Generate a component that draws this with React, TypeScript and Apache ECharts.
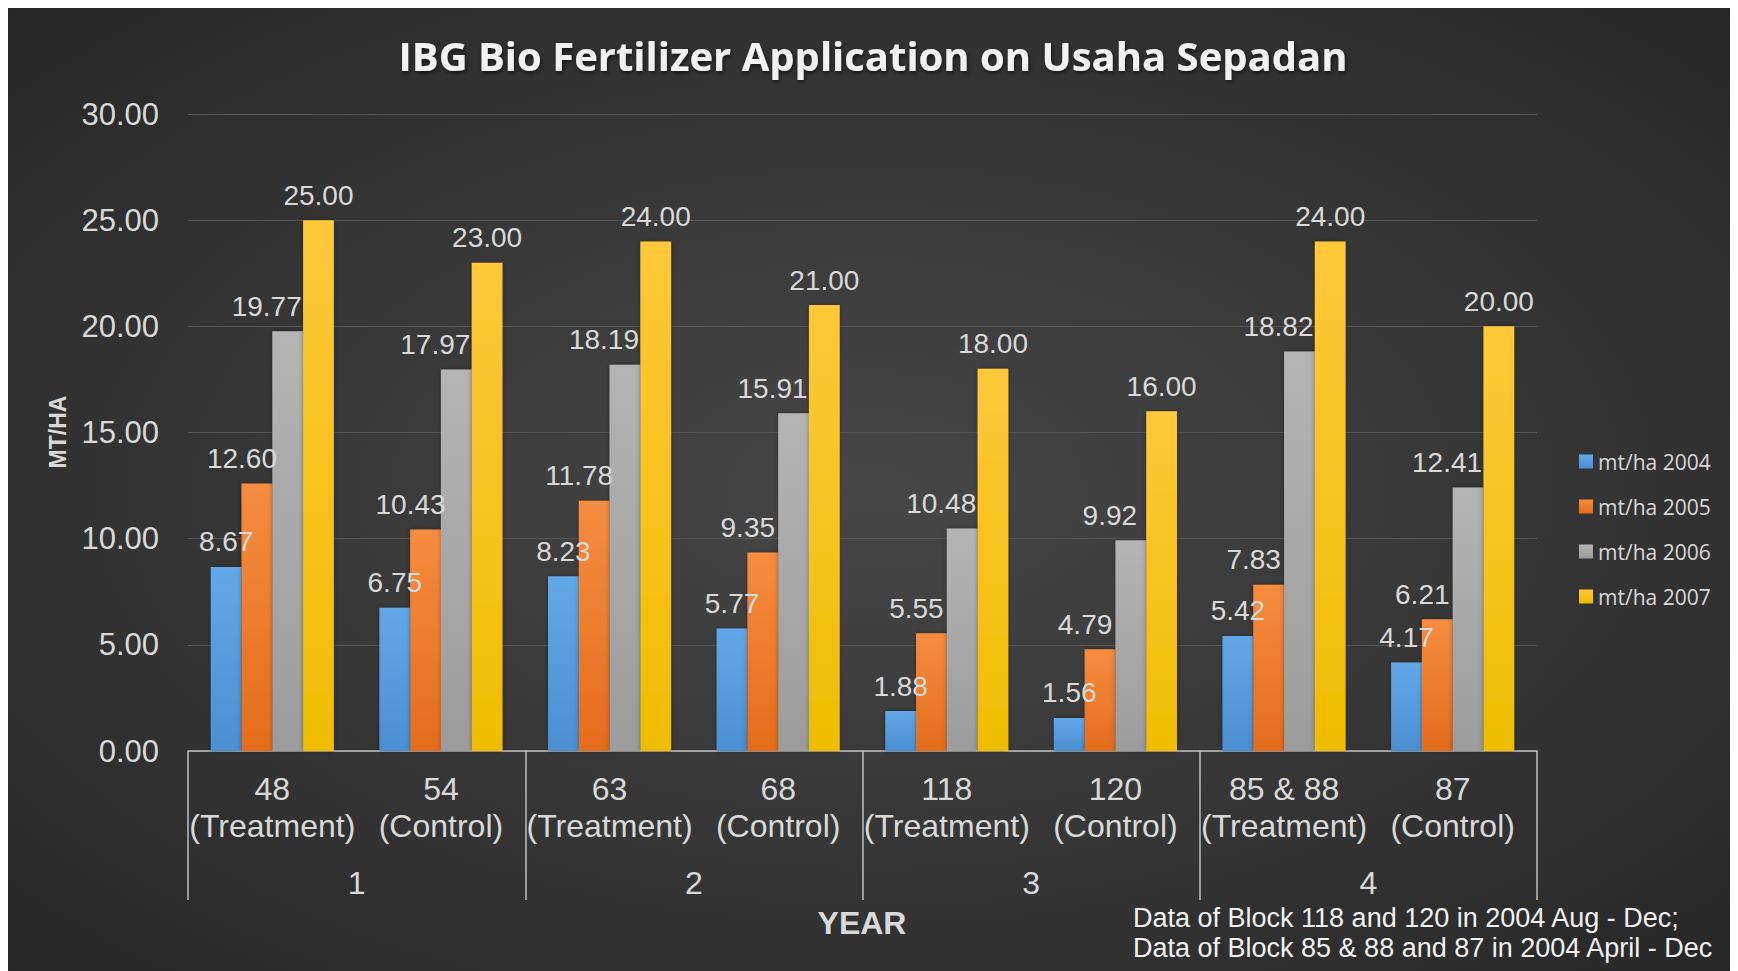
import React, { useEffect, useRef } from "react";
import * as echarts from "echarts";

const categories = [
  "48\n(Treatment)",
  "54\n(Control)",
  "63\n(Treatment)",
  "68\n(Control)",
  "118\n(Treatment)",
  "120\n(Control)",
  "85 & 88\n(Treatment)",
  "87\n(Control)",
];
const groups = ["1", "2", "3", "4"];
const seriesNames = ["mt/ha 2004", "mt/ha 2005", "mt/ha 2006", "mt/ha 2007"];
const v2004 = [8.67, 6.75, 8.23, 5.77, 1.88, 1.56, 5.42, 4.17];
const v2005 = [12.6, 10.43, 11.78, 9.35, 5.55, 4.79, 7.83, 6.21];
const v2006 = [19.77, 17.97, 18.19, 15.91, 10.48, 9.92, 18.82, 12.41];
const v2007 = [25.0, 23.0, 24.0, 21.0, 18.0, 16.0, 24.0, 20.0];
const yTicks = { min: 0, max: 30, interval: 5 };
const titleText = "IBG Bio Fertilizer Application on Usaha Sepadan";
const yName = "MT/HA";
const xName = "YEAR";
const noteLines = [
  "Data of Block 118 and 120 in 2004 Aug - Dec;",
  "Data of Block 85 & 88 and 87 in 2004 April - Dec",
];

const FONT = "'Liberation Sans', Arial, sans-serif";
const TXT = "#d9d9d9";

function grad(top: string, bottom: string) {
  return new echarts.graphic.LinearGradient(0, 0, 0, 1, [
    { offset: 0, color: top },
    { offset: 1, color: bottom },
  ]);
}

export default function App() {
  const ref = useRef<HTMLDivElement>(null);
  useEffect(() => {
    document.documentElement.style.overflow = "hidden";
    document.body.style.overflow = "hidden";
    const chart = echarts.init(ref.current!, null, { renderer: "svg" });
    const values = [v2004, v2005, v2006, v2007];
    const colors = [
      ["#62a8e8", "#4a8fd2"],
      ["#f68c40", "#e46c1c"],
      ["#b4b4b4", "#9c9c9c"],
      ["#ffc83a", "#f0bd00"],
    ];
    const legendColors = ["#5b9bd5", "#ed7d31", "#a5a5a5", "#ffc000"];
    const labelShift = [0, -15, -21, 0];
    chart.setOption({
      animation: false,
      backgroundColor: {
        type: "radial",
        x: 0.5,
        y: 0.5,
        r: 0.75,
        colorStops: [
          { offset: 0, color: "#474747" },
          { offset: 1, color: "#252525" },
        ],
      },
      color: legendColors,
      grid: { left: 180, right: 201, top: 106, bottom: 220, containLabel: false },
      legend: {
        orient: "vertical",
        left: 1566,
        top: 438,
        itemWidth: 14,
        itemHeight: 14,
        itemGap: 24,
        icon: "rect",
        textStyle: { color: TXT, fontSize: 21, fontFamily: "'Open Sans', sans-serif" },
        data: seriesNames,
      },
      xAxis: [
        {
          type: "category",
          data: categories,
          position: "bottom",
          axisLine: { show: true, lineStyle: { color: "#bfbfbf", width: 1.5 } },
          axisTick: { show: false },
          axisLabel: {
            interval: 0,
            color: TXT,
            fontSize: 32,
            fontFamily: FONT,
            lineHeight: 37,
            margin: 19,
          },
        },
        {
          type: "category",
          data: groups,
          position: "bottom",
          axisLine: { show: false },
          axisTick: { show: true, length: 149, lineStyle: { color: "#bfbfbf", width: 1.5 } },
          axisLabel: {
            interval: 0,
            color: TXT,
            fontSize: 32,
            fontFamily: FONT,
            margin: 116,
          },
          splitLine: { show: false },
        },
      ],
      yAxis: {
        type: "value",
        min: yTicks.min,
        max: yTicks.max,
        interval: yTicks.interval,
        axisLine: { show: false },
        axisTick: { show: false },
        splitLine: { lineStyle: { color: "#555555", width: 1 } },
        axisLabel: {
          color: TXT,
          fontSize: 31,
          fontFamily: FONT,
          margin: 29,
          formatter: (v: number) => v.toFixed(2),
        },
      },
      series: values.map((vals, i) => ({
        type: "bar",
        name: seriesNames[i],
        data: vals,
        xAxisIndex: 0,
        barGap: "0%",
        barCategoryGap: "27%",
        itemStyle: {
          color: grad(colors[i][0], colors[i][1]),
          shadowColor: "rgba(0,0,0,0.35)",
          shadowBlur: 4,
        },
        label: {
          show: true,
          position: "top",
          distance: 11,
          offset: [labelShift[i], 0],
          color: TXT,
          fontSize: 28,
          fontFamily: FONT,
          formatter: (p: any) => Number(p.value).toFixed(2),
        },
      })),
      graphic: [
        {
          type: "text",
          x: 865,
          y: 47,
          style: {
            text: titleText,
            fill: "#f2f2f2",
            font: "bold 40px 'Open Sans', sans-serif",
            align: "center",
            verticalAlign: "middle",
            textShadowColor: "rgba(0,0,0,0.6)",
            textShadowBlur: 4,
            textShadowOffsetX: 1,
            textShadowOffsetY: 2,
          },
        },
        {
          type: "text",
          x: 50,
          y: 424,
          rotation: Math.PI / 2,
          style: {
            text: yName,
            fill: TXT,
            font: `bold 23px ${FONT}`,
            align: "center",
            verticalAlign: "middle",
          },
        },
        {
          type: "text",
          x: 854,
          y: 915,
          style: {
            text: xName,
            fill: TXT,
            font: `bold 32px ${FONT}`,
            align: "center",
            verticalAlign: "middle",
          },
        },
        {
          type: "text",
          x: 1125,
          y: 910,
          style: {
            text: noteLines[0],
            fill: "#f2f2f2",
            font: `27px ${FONT}`,
            align: "left",
            verticalAlign: "middle",
          },
        },
        {
          type: "text",
          x: 1125,
          y: 940,
          style: {
            text: noteLines[1],
            fill: "#f2f2f2",
            font: `27px ${FONT}`,
            align: "left",
            verticalAlign: "middle",
          },
        },
      ],
    });
    return () => chart.dispose();
  }, []);
  return <div ref={ref} style={{ width: 1730, height: 963 }} />;
}
